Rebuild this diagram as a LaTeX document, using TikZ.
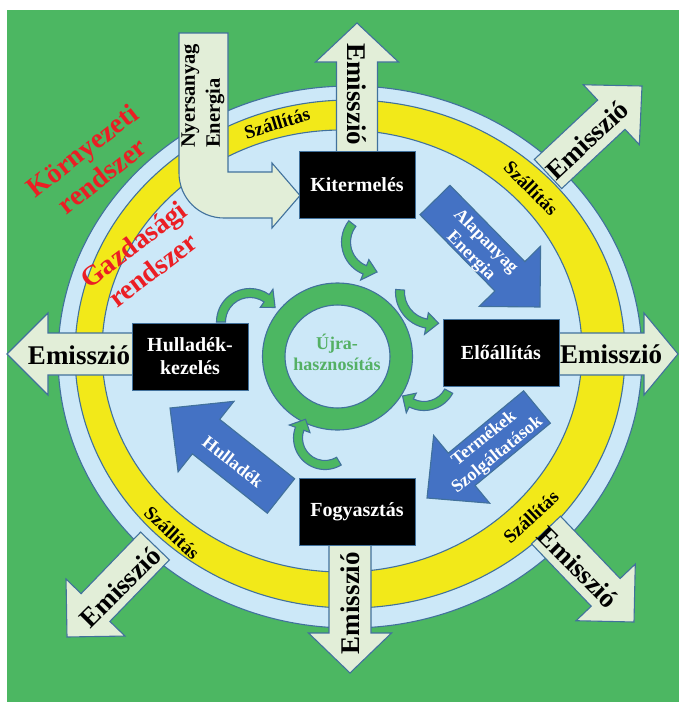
\documentclass[tikz,border=0pt]{standalone}
\usepackage{fontspec}
\setmainfont{Liberation Serif}
\usetikzlibrary{calc}
\definecolor{bggreen}{RGB}{76,183,98}
\definecolor{lblue}{RGB}{204,232,248}
\definecolor{ringyellow}{RGB}{242,233,25}
\definecolor{edgeblue}{RGB}{65,113,156}
\definecolor{emfill}{RGB}{226,238,216}
\definecolor{arrblue}{RGB}{68,114,196}
\definecolor{redtext}{RGB}{235,30,36}
\definecolor{greentext}{RGB}{84,176,100}
\tikzset{
  edge/.style={draw=edgeblue, line width=1.1pt, line join=miter},
  emarrow/.style={edge, fill=emfill},
  bluearrow/.style={edge, fill=arrblue},
  garrow/.style={edge, fill=bggreen},
  ringpart/.style={edge},
  blackbox/.style={draw=edgeblue, line width=0.8pt, fill=black, text=white,
    font=\fontsize{20}{23}\selectfont\bfseries, align=center, inner sep=0pt,
    minimum width=116pt, minimum height=67pt},
  emtext/.style={font=\fontsize{27}{30}\selectfont\bfseries, inner sep=0pt},
  transtext/.style={font=\fontsize{19}{22}\selectfont\bfseries, inner sep=0pt},
  redlabel/.style={text=redtext, font=\fontsize{28}{32}\selectfont\bfseries, align=center, inner sep=0pt},
  bluetext/.style={text=white, font=\fontsize{18}{21}\selectfont\bfseries, align=center, inner sep=0pt},
  rawtext/.style={font=\fontsize{20.5}{25}\selectfont\bfseries, align=left, inner sep=0pt},
  reusetext/.style={text=greentext, font=\fontsize{18}{21}\selectfont\bfseries, align=center, inner sep=0pt}
}
% straight block arrow: style, tail, tip, shaft half width, head half width, head length
\newcommand\blockarrow[6]{%
  \coordinate (bT) at #2;
  \coordinate (bP) at #3;
  \coordinate (bH) at ($(bP)!#6!(bT)$);
  \draw[#1] ($(bT)!#4!90:(bP)$) -- ($(bH)!#4!90:(bP)$) -- ($(bH)!#5!90:(bP)$) -- (bP)
    -- ($(bH)!#5!-90:(bP)$) -- ($(bH)!#4!-90:(bP)$) -- ($(bT)!#4!-90:(bP)$) -- cycle;}
% curved green arrow: centre, radius, tail angle, head base angle, tip angle
\newcommand\curvedarrow[5]{%
  \begin{scope}[shift={#1}]
    \draw[garrow] (#3:#2+4.5) arc[start angle=#3, end angle=#4, radius=#2+4.5]
      -- (#4:#2+11) -- (#5:#2) -- (#4:#2-11) -- (#4:#2-4.5)
      arc[start angle=#4, end angle=#3, radius=#2-4.5] -- cycle;
  \end{scope}}
\begin{document}
\begin{tikzpicture}[x=1pt,y=-1pt]
\useasboundingbox (0,0) rectangle (679,705);
\fill[white] (0,0) rectangle (679,705);
\fill[bggreen] (7,10) rectangle (679,702);
% rings
\draw[ringpart, fill=lblue] (350,357) ellipse [x radius=292, y radius=271];
\draw[ringpart, fill=ringyellow] (350,354) ellipse [x radius=275, y radius=254];
\draw[ringpart, fill=lblue] (342,351) ellipse [x radius=240, y radius=221];
% transport labels
\node[transtext, rotate=17] (sz1) at (277,123) {Szállítás};
\node[transtext, rotate=-45] (sz2) at (531,188) {Szállítás};
\node[transtext, rotate=-43] (sz3) at (172,533) {Szállítás};
\node[transtext, rotate=43] (sz4) at (531,517) {Szállítás};
% system labels
\node[redlabel, rotate=38] (env) at (92,163) {Környezeti\\rendszer};
\node[redlabel, rotate=37] (econ) at (143,257) {Gazdasági\\rendszer};
% emission arrows
\blockarrow{emarrow}{(357,160)}{(357,23)}{20.5pt}{41.5pt}{39pt}
\blockarrow{emarrow}{(550,354)}{(678,354)}{21pt}{41pt}{34pt}
\blockarrow{emarrow}{(140,354)}{(7,354)}{21pt}{41pt}{41pt}
\blockarrow{emarrow}{(350,540)}{(350,673)}{21pt}{41.5pt}{40pt}
\blockarrow{emarrow}{(548,174)}{(642,86)}{20pt}{41pt}{42pt}
\blockarrow{emarrow}{(546,530)}{(634,622)}{20pt}{41pt}{41pt}
\blockarrow{emarrow}{(155,546)}{(67,637)}{20pt}{41pt}{41pt}
\node[emtext, rotate=-90] (emN) at (357,94) {Emisszió};
\node[emtext] (emE) at (611,354) {Emisszió};
\node[emtext] (emW) at (79,355) {Emisszió};
\node[emtext, rotate=90] (emS) at (350,603) {Emisszió};
\node[emtext, rotate=43] (emNE) at (587,140) {Emisszió};
\node[emtext, rotate=-45] (emSE) at (578,567) {Emisszió};
\node[emtext, rotate=45] (emSW) at (120,587) {Emisszió};
% raw material input arrow
\draw[emarrow] (179,33) -- (228,33) -- (228,172) -- (272,172) -- (272,163) -- (300,195.5)
  -- (272,228) -- (272,218) -- (224,218) .. controls (199,218) and (179,198) .. (179,173) -- cycle;
\node[rawtext, rotate=90] (raw) at (203,96) {Nyersanyag\\Energia};
% blue flow arrows
\blockarrow{bluearrow}{(435,200)}{(540,307)}{21pt}{43pt}{43pt}
\blockarrow{bluearrow}{(537,407)}{(427,498)}{21pt}{44pt}{45pt}
\blockarrow{bluearrow}{(281,496)}{(170,408)}{22pt}{45pt}{46pt}
\node[bluetext, rotate=-45] (alap) at (478,249) {Alapanyag\\Energia};
\node[bluetext, rotate=39] (term) at (491,447) {Termékek\\Szolgáltatások};
\node[bluetext, rotate=-38] (hull) at (233,462) {Hulladék};
% recycling ring and curved arrows
\draw[garrow, even odd rule] (337.5,356.5) ellipse [x radius=75, y radius=73.5]
  (337.5,356.5) ellipse [x radius=52.5, y radius=51.5];
\node[reusetext] (reuse) at (337,352) {Újra-\\hasznosítás};
\curvedarrow{(376,242)}{30}{218}{112}{88}
\curvedarrow{(432,292)}{32}{184}{100}{78}
\curvedarrow{(424,378)}{28}{28}{117}{140}
\curvedarrow{(325,438)}{27}{59}{200}{224}
\curvedarrow{(250,322)}{29}{180}{305}{330}
% stage boxes
\node[blackbox] (kit) at (357,185) {Kitermelés};
\node[blackbox] (elo) at (501,352.5) {Előállítás};
\node[blackbox] (hul) at (190,356.5) {Hulladék-\\kezelés};
\node[blackbox] (fog) at (357,511.5) {Fogyasztás};
\end{tikzpicture}
\end{document}
